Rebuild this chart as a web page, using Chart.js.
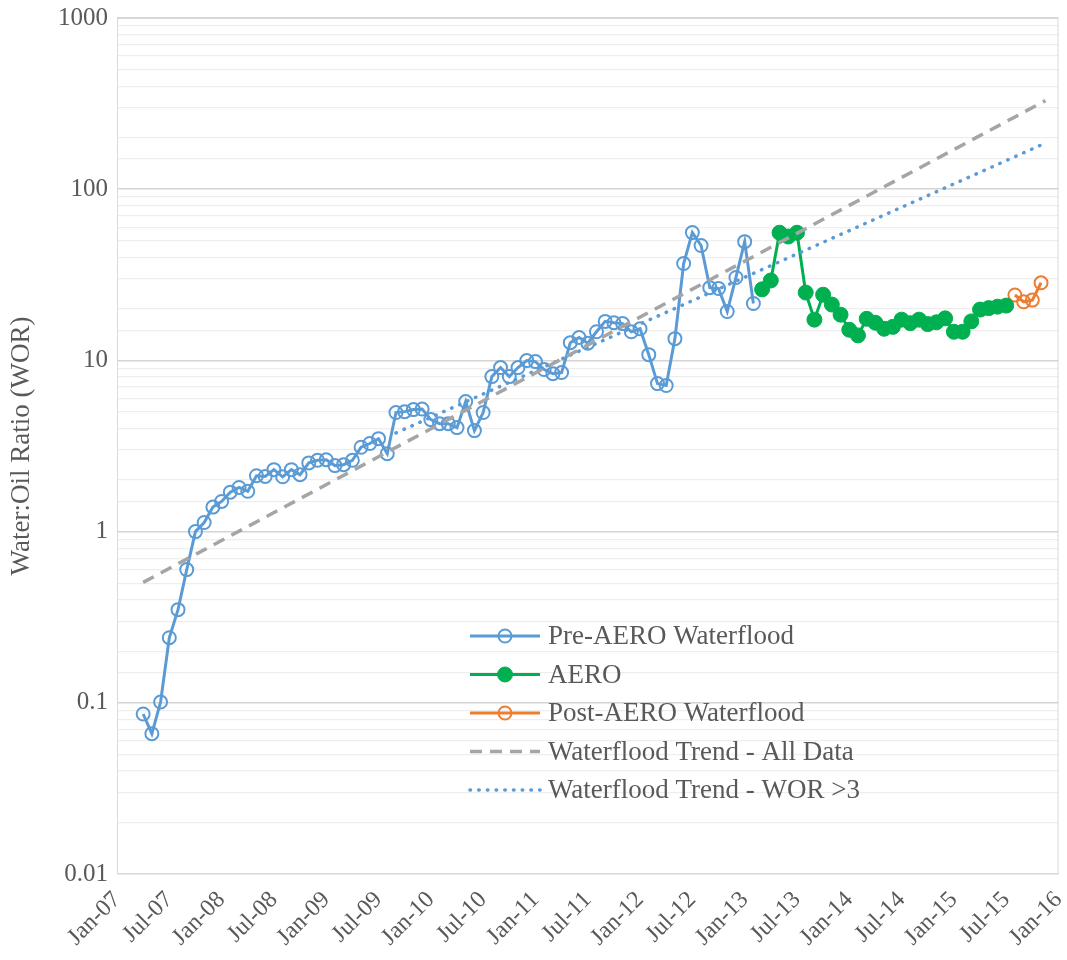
<!DOCTYPE html>
<html>
<head>
<meta charset="utf-8">
<script src="https://cdn.jsdelivr.net/npm/chart.js@4.4.0/dist/chart.umd.min.js"></script>
<style>
  html, body { margin: 0; padding: 0; background: #fff; }
  #wrap { width: 1067px; height: 960px; }
</style>
</head>
<body>
<div id="wrap"><canvas id="worChart"></canvas></div>
<script>
// x values are month numbers, 0 = Jan-07
const xTickLabels = ['Jan-07', 'Jul-07', 'Jan-08', 'Jul-08', 'Jan-09', 'Jul-09', 'Jan-10', 'Jul-10', 'Jan-11',
  'Jul-11', 'Jan-12', 'Jul-12', 'Jan-13', 'Jul-13', 'Jan-14', 'Jul-14', 'Jan-15', 'Jul-15', 'Jan-16'];

const preAeroStart = 3;   // Apr-07
const preAeroWOR = [
  0.086, 0.066, 0.101, 0.24, 0.35, 0.60, 1.0, 1.13, 1.39,            // Apr-07 .. Dec-07
  1.50, 1.70, 1.81, 1.72, 2.12, 2.10, 2.30, 2.09, 2.30, 2.15, 2.52, 2.61,   // 2008
  2.63, 2.43, 2.46, 2.61, 3.11, 3.27, 3.49, 2.85, 4.96, 5.02, 5.16, 5.20,   // 2009
  4.51, 4.27, 4.27, 4.05, 5.75, 3.89, 4.96, 8.04, 9.08, 8.04, 9.08, 9.97,   // 2010
  9.84, 8.84, 8.37, 8.49, 12.7, 13.6, 12.6, 14.7, 16.9, 16.6, 16.4, 14.7,   // 2011
  15.3, 10.8, 7.32, 7.13, 13.4, 36.8, 55.8, 46.9, 26.6, 26.3, 19.3, 30.5,   // 2012
  49.4, 21.5                                                               // Jan-13, Feb-13
];

const aeroStart = 74;     // Mar-13
const aeroWOR = [
  26.0, 29.3, 55.7, 52.9, 55.7, 24.9, 17.3, 24.2, 21.2, 18.5,  // Mar-13 .. Dec-13
  15.1, 14.0, 17.5, 16.6, 15.3, 15.7, 17.3, 16.5, 17.3, 16.3, 16.7, 17.6,  // 2014
  14.7, 14.7, 16.9, 19.8, 20.2, 20.6, 20.9                    // Jan-15 .. Jul-15
];

const postAeroStart = 103; // Aug-15
const postAeroWOR = [24.1, 22.0, 22.5, 28.4];

// exponential trendlines (straight on the log axis): end points only
const trendAllMonths = [3, 106.5];
const trendAllWOR = [0.505, 329];
const trendWor3Months = [32, 106.5];
const trendWor3WOR = [3.77, 186];

const toPoints = (start, vals) => vals.map((v, i) => ({ x: start + i, y: v }));
const pairPoints = (xs, ys) => xs.map((x, i) => ({ x: x, y: ys[i] }));

const textColor = '#595959';
const serif = '"Liberation Serif", "Times New Roman", serif';
Chart.defaults.font.family = serif;

// legend drawn inside the plot, like the original
const insideLegend = {
  id: 'insideLegend',
  afterDraw(chart) {
    const c = chart.ctx;
    const left = 470, top = 636, gap = 38.5, len = 70;
    chart.data.datasets.forEach((ds, i) => {
      const y = top + i * gap;
      c.save();
      c.strokeStyle = ds.borderColor;
      c.lineWidth = ds.borderWidth;
      c.lineCap = ds.borderCapStyle || 'butt';
      c.setLineDash(ds.borderDash || []);
      c.beginPath();
      c.moveTo(left, y);
      c.lineTo(left + len, y);
      c.stroke();
      if (ds.pointRadius > 0) {
        c.setLineDash([]);
        c.beginPath();
        c.arc(left + len / 2, y, ds.pointRadius, 0, Math.PI * 2);
        c.fillStyle = ds.pointBackgroundColor;
        c.fill();
        c.lineWidth = ds.pointBorderWidth;
        c.strokeStyle = ds.pointBorderColor;
        c.stroke();
      }
      c.fillStyle = textColor;
      c.font = '27px ' + serif;
      c.textBaseline = 'middle';
      c.fillText(ds.label, left + len + 8, y + 1);
      c.restore();
    });
  }
};

// light border round the plot area
const plotBorder = {
  id: 'plotBorder',
  beforeDatasetsDraw(chart) {
    const a = chart.chartArea, c = chart.ctx;
    c.save();
    c.strokeStyle = '#d9d9d9';
    c.lineWidth = 1;
    c.strokeRect(a.left + 0.5, a.top + 0.5, a.right - a.left - 1, a.bottom - a.top - 1);
    c.restore();
  }
};

const isDecade = v => Math.abs(Math.log10(v) - Math.round(Math.log10(v))) < 1e-6;

const ctx = document.getElementById('worChart').getContext('2d');
const worChart = new Chart(ctx, {
  type: 'line',
  data: {
    datasets: [
      {
        label: 'Pre-AERO Waterflood',
        data: toPoints(preAeroStart, preAeroWOR),
        borderColor: '#5B9BD5',
        borderWidth: 3,
        pointRadius: 6.5,
        pointBorderWidth: 2,
        pointBorderColor: '#5B9BD5',
        pointBackgroundColor: 'rgba(255,255,255,0)',
        order: 1
      },
      {
        label: 'AERO',
        data: toPoints(aeroStart, aeroWOR),
        borderColor: '#00B050',
        borderWidth: 3,
        pointRadius: 7.5,
        pointBorderWidth: 1,
        pointBorderColor: '#00B050',
        pointBackgroundColor: '#00B050',
        order: 1
      },
      {
        label: 'Post-AERO Waterflood',
        data: toPoints(postAeroStart, postAeroWOR),
        borderColor: '#ED7D31',
        borderWidth: 3,
        pointRadius: 6.5,
        pointBorderWidth: 2,
        pointBorderColor: '#ED7D31',
        pointBackgroundColor: 'rgba(255,255,255,0)',
        order: 1
      },
      {
        label: 'Waterflood Trend - All Data',
        data: pairPoints(trendAllMonths, trendAllWOR),
        borderColor: '#A5A5A5',
        borderWidth: 3.5,
        borderDash: [12, 8],
        pointRadius: 0,
        order: 0
      },
      {
        label: 'Waterflood Trend - WOR >3',
        data: pairPoints(trendWor3Months, trendWor3WOR),
        borderColor: '#5B9BD5',
        borderWidth: 3.5,
        borderDash: [0.5, 8.2],
        borderCapStyle: 'round',
        pointRadius: 0,
        order: 0
      }
    ]
  },
  options: {
    responsive: true,
    maintainAspectRatio: false,
    animation: false,
    layout: { padding: { top: 18, right: 6, left: 0, bottom: 0 } },
    plugins: {
      legend: { display: false },
      tooltip: { enabled: false }
    },
    scales: {
      x: {
        type: 'linear',
        min: 0,
        max: 108,
        grid: { display: false, drawTicks: false },
        border: { display: false },
        ticks: {
          stepSize: 6,
          autoSkip: false,
          minRotation: 45,
          maxRotation: 45,
          padding: 12,
          color: textColor,
          font: { size: 24 },
          callback: v => xTickLabels[Math.round(v / 6)]
        },
        afterFit: s => { s.height = 86; s.paddingRight = 0; s.paddingLeft = 0; }
      },
      y: {
        type: 'logarithmic',
        min: 0.01,
        max: 1000,
        grid: {
          drawTicks: false,
          color: c => isDecade(c.tick.value) ? '#d4d4d4' : '#eeeeee',
          lineWidth: c => isDecade(c.tick.value) ? 1.5 : 1.2
        },
        border: { display: false },
        ticks: {
          autoSkip: false,
          padding: 9,
          color: textColor,
          font: { size: 25 },
          callback: v => {
            if (!isDecade(v)) return '';
            const e = Math.round(Math.log10(v));
            return e >= 0 ? String(Math.round(v)) : v.toFixed(-e);
          }
        },
        title: {
          display: true,
          text: 'Water:Oil Ratio (WOR)',
          color: textColor,
          font: { size: 27 },
          padding: { top: 6, bottom: 0 }
        },
        afterFit: s => { s.width = 117; s.paddingTop = 0; s.paddingBottom = 0; }
      }
    }
  },
  plugins: [plotBorder, insideLegend]
});
</script>
</body>
</html>
